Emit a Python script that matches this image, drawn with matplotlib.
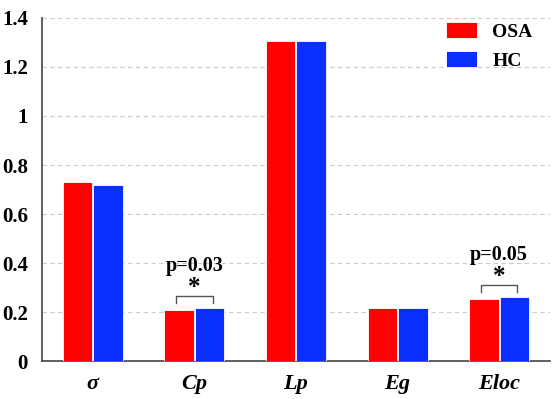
import numpy as np
import matplotlib.pyplot as plt

plt.rcParams['font.family'] = ['Liberation Serif', 'DejaVu Serif']
plt.rcParams['font.weight'] = 'bold'

# data
categories = ['σ', 'Cp', 'Lp', 'Eg', 'Eloc']
osa = [0.731, 0.208, 1.306, 0.218, 0.253]
hc = [0.718, 0.216, 1.306, 0.218, 0.261]
sig_idx = [1, 4]
sig_labels = ['p=0.03', 'p=0.05']

x = np.arange(len(categories))
w = 0.29

fig = plt.figure(figsize=(5.57, 3.99), dpi=100)
ax = fig.add_axes([0.0754, 0.095, 0.912, 0.86])

ax.bar(x - 0.15, osa, w, color='#ff0000', edgecolor='white', linewidth=0.6, label='OSA', zorder=3)
ax.bar(x + 0.15, hc, w, color='#0a2eff', edgecolor='white', linewidth=0.6, label='HC', zorder=3)

# significance brackets
for i, lab in zip(sig_idx, sig_labels):
    top = max(osa[i], hc[i])
    y0 = top + 0.022
    y1 = top + 0.05
    ax.plot([i - 0.18, i - 0.18, i + 0.18, i + 0.18], [y0, y1, y1, y0],
            color='#555555', lw=1.0, zorder=4)
    ax.text(i, y1 - 0.012, '*', ha='center', va='bottom', fontsize=18, fontweight='bold')
    ax.text(i, y1 + 0.08, lab, ha='center', va='bottom', fontsize=14.5, fontweight='bold')

ax.set_xlim(-0.5, 4.5)
ax.set_ylim(0, 1.4)
ax.set_yticks(np.arange(0, 1.41, 0.2))
ax.set_yticklabels(['0', '0.2', '0.4', '0.6', '0.8', '1', '1.2', '1.4'])
ax.set_xticks(x)
ax.set_xticklabels(categories, fontstyle='italic', fontsize=16)
ax.tick_params(axis='y', length=0, labelsize=15, pad=10)
ax.tick_params(axis='x', length=0, pad=9)
for t in ax.get_xticklabels() + ax.get_yticklabels():
    t.set_fontweight('bold')

ax.grid(axis='y', linestyle=(0, (4, 3)), color='#cccccc', lw=0.8, zorder=0)
for s in ['top', 'right']:
    ax.spines[s].set_visible(False)
ax.spines['left'].set_color('#444444')
ax.spines['bottom'].set_color('#444444')
ax.spines['left'].set_linewidth(1.2)
ax.spines['bottom'].set_linewidth(1.2)

leg = ax.legend(loc='upper right', frameon=False, prop={'weight': 'bold', 'size': 14},
                handlelength=1.6, handleheight=0.9, handletextpad=0.8, labelspacing=0.55,
                bbox_to_anchor=(1.0, 1.04))

fig.savefig('out.png', dpi=100)
